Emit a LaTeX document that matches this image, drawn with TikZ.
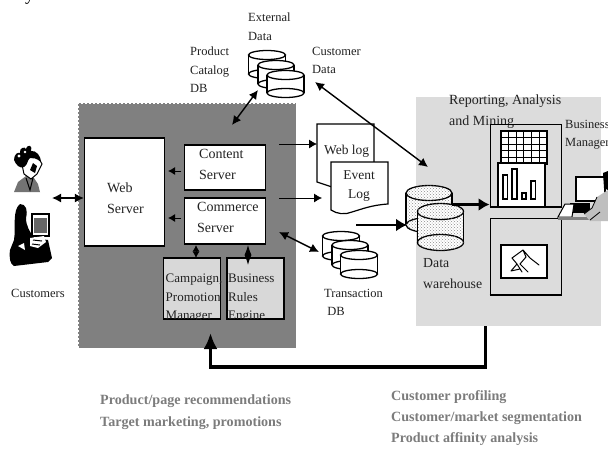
\documentclass[tikz,border=0pt]{standalone}
\usepackage{fontspec}
\setmainfont{Liberation Serif}
\usetikzlibrary{arrows.meta,patterns,calc}
\definecolor{panelgray}{HTML}{808080}
\definecolor{lightpanel}{HTML}{DCDCDC}
\definecolor{boxgray}{HTML}{D8D8D8}
\definecolor{noteink}{HTML}{7C7C7C}
\definecolor{inkgray}{HTML}{222222}
\newcommand{\dbcan}[5]{% cx, top y, half width, body height, ry
  \fill[white] (#1-#3,#2) rectangle (#1+#3,#2+#4);
  \draw[dbline] (#1-#3,#2) -- (#1-#3,#2+#4) (#1+#3,#2) -- (#1+#3,#2+#4);
  \draw[dbline,fill=white] (#1,#2+#4) ellipse [x radius=#3,y radius=#5];
  \draw[dbline,fill=white] (#1,#2) ellipse [x radius=#3,y radius=#5];
}
\newcommand{\dotcan}[5]{%
  \fill[white] (#1-#3,#2) rectangle (#1+#3,#2+#4);
  \fill[pattern=crosshatch dots,pattern color=black!45] (#1-#3,#2) rectangle (#1+#3,#2+#4);
  \draw[dbline] (#1-#3,#2) -- (#1-#3,#2+#4) (#1+#3,#2) -- (#1+#3,#2+#4);
  \draw[dbline,fill=white] (#1,#2+#4) ellipse [x radius=#3,y radius=#5];
  \fill[pattern=crosshatch dots,pattern color=black!45] (#1,#2+#4) ellipse [x radius=#3,y radius=#5];
  \draw[dbline,fill=white] (#1,#2) ellipse [x radius=#3,y radius=#5];
  \fill[pattern=crosshatch dots,pattern color=black!45] (#1,#2) ellipse [x radius=#3,y radius=#5];
}
\tikzset{
  x=1pt,y=-1pt,
  dbline/.style={line width=1.3pt,draw=black},
  srvbox/.style={draw=black,fill=white,line width=1.2pt,inner sep=0pt,align=center},
  subbox/.style={draw=black,fill=boxgray,line width=1.2pt,inner sep=0pt},
  framebox/.style={draw=black,line width=0.9pt},
  lbl/.style={inner sep=0pt,align=left,text=inkgray,font=\fontsize{12.5}{18.3}\selectfont},
  srvtext/.style={inner sep=0pt,align=left,text=inkgray,font=\fontsize{14}{21}\selectfont},
  note/.style={inner sep=0pt,align=left,text=noteink,font=\bfseries\fontsize{14.1}{21.3}\selectfont},
  biarrow/.style={{Latex[length=9pt,width=9pt]}-{Latex[length=9pt,width=9pt]},line width=1.4pt},
  onearrow/.style={-{Latex[length=8pt,width=9pt]},line width=0.8pt},
  thickarrow/.style={-{Latex[length=11pt,width=13pt]},line width=2.2pt},
  bigarrow/.style={-{Latex[length=16pt,width=14pt]},line width=3.2pt},
}
\begin{document}
\begin{tikzpicture}
\clip (0,0) rectangle (608,448);
\useasboundingbox (0,0) rectangle (608,448);
\fill[white] (0,0) rectangle (608,448);
% cut-off text at top
\node[anchor=base west,inner sep=0pt,font=\fontsize{18}{18}\selectfont] (cuty) at (25,0) {y};
% panels
\node[fill=panelgray,draw=white,line width=1pt,dash pattern=on 2pt off 2pt,minimum width=218pt,minimum height=245pt,inner sep=0pt] (corepanel) at (187,225.5) {};
\node[fill=lightpanel,minimum width=185pt,minimum height=229pt,inner sep=0pt] (lightpanelbox) at (508.5,211.5) {};
% servers
\node[srvbox,minimum width=80pt,minimum height=108pt] (web) at (124.5,192) {};
\node[srvtext,anchor=north west] (webt) at (107,183) {Web\\Server};
\node[srvbox,minimum width=81pt,minimum height=45pt] (content) at (225,167.5) {};
\node[srvtext,anchor=north west] (contentt) at (199,149) {Content\\Server};
\node[srvbox,minimum width=81pt,minimum height=46pt] (commerce) at (225,221) {};
\node[srvtext,anchor=north west] (commercet) at (197,202) {Commerce\\Server};
\node[subbox,minimum width=57pt,minimum height=61pt] (campaign) at (192,288.5) {};
\node[subbox,minimum width=57pt,minimum height=61pt] (rules) at (255.5,288.5) {};
\begin{scope}
\clip (campaign.south west) rectangle (campaign.north east);
\node[inner sep=0pt,align=left,text=inkgray,font=\fontsize{13}{18.5}\selectfont,anchor=north west] (campaignt) at (165.5,274) {Campaign,\\Promotion\\Manager};
\end{scope}
\begin{scope}
\clip (rules.south west) rectangle (rules.north east);
\node[inner sep=0pt,align=left,text=inkgray,font=\fontsize{13}{18.5}\selectfont,anchor=north west] (rulest) at (228,274) {Business\\Rules\\Engine};
\end{scope}
% coordinates for arrows
\coordinate (webL) at (52,198);
\coordinate (contentArrowA) at (181,171);
\coordinate (contentArrowB) at (168,171);
\coordinate (commerceArrowA) at (181,218);
\coordinate (commerceArrowB) at (168,218);
\draw[-{Latex[length=7pt,width=8pt]},line width=1pt] (contentArrowA) -- (contentArrowB);
\draw[-{Latex[length=7pt,width=8pt]},line width=1pt] (commerceArrowA) -- (commerceArrowB);
\draw[biarrow] (webL) -- (web.west |- webL);
\draw[{Latex[length=6.5pt,width=7pt]}-{Latex[length=6.5pt,width=7pt]},line width=1pt] (196,245) -- (196,258);
\draw[{Latex[length=10pt,width=7pt]}-{Latex[length=10pt,width=7pt]},line width=1pt] (248,245) -- (248,265);
% external data
\dbcan{267}{55}{18.5}{19}{4.5}
\dbcan{276}{65}{18}{19}{4.5}
\dbcan{285.5}{75}{18.5}{18}{4.5}
\node[lbl,anchor=north west] (extt) at (248,13) {External\\Data};
\node[lbl,anchor=north west] (prodt) at (190,47) {Product\\Catalog\\DB};
\node[lbl,anchor=north west] (custt) at (312,47) {Customer\\Data};
\coordinate (extA) at (258,90);
\coordinate (extB) at (232,125);
\draw[biarrow] (extA) -- (extB);
% documents
\draw[line width=1.2pt,fill=white] (317,124) -- (374,124) -- (374,170) -- (345,190) -- (332,187) -- (317,182) -- cycle;
\node[lbl,anchor=north west,font=\fontsize{13.5}{18}\selectfont] (weblogt) at (324,145) {Web log};
\draw[line width=1.2pt,fill=white] (331,162) -- (388,162) -- (388,204) .. controls (372,205) and (362,209) .. (352,212) .. controls (345,215) and (337,214) .. (331,210) -- cycle;
\node[lbl,anchor=north,align=center,font=\fontsize{13.5}{19.5}\selectfont] (eventt) at (359,170) {Event\\Log};
% arrows into documents
\coordinate (logA) at (279,144);
\coordinate (logB) at (317,144);
\coordinate (evA) at (279,198);
\coordinate (evB) at (322,198);
\draw[onearrow] (logA) -- (logB);
\draw[onearrow] (evA) -- (evB);
% transaction db
\dbcan{341}{236}{18.5}{20}{4.5}
\dbcan{350}{245}{18}{20}{4.5}
\dbcan{359}{255}{18.5}{19}{4.5}
\node[lbl,anchor=north west] (txt) at (324,289) {Transaction\\\ DB};
\coordinate (txA) at (279,232);
\coordinate (txB) at (319,252);
\draw[biarrow] (txA) -- (txB);
% customer data arrow
\coordinate (custA) at (315,82);
\coordinate (custB) at (428,167);
\draw[biarrow] (custA) -- (custB);
% report text
\node[srvtext,anchor=north west] (rept) at (449,95) {Reporting, Analysis\\and Mining};
% report boxes
\node[framebox,minimum width=71pt,minimum height=83pt,inner sep=0pt] (upperframe) at (525.5,165.5) {};
\node[framebox,minimum width=71pt,minimum height=77pt,inner sep=0pt] (lowerframe) at (525.5,256.5) {};
\draw[line width=2pt] (upperframe.south west) -- (upperframe.south east);
\draw[line width=2pt] (lowerframe.south west) -- (lowerframe.south east);
\draw[line width=1.3pt] (lowerframe.north east) -- (lowerframe.south east);
% grid
\draw[line width=1.4pt,fill=white] (501,131) rectangle (547,164);
\draw[line width=0.7pt,shift={(501,131)}] (7.6,0) -- (7.6,33) (15.2,0) -- (15.2,33) (22.8,0) -- (22.8,33) (30.4,0) -- (30.4,33) (38,0) -- (38,33)
  (0,6.6) -- (46,6.6) (0,13.2) -- (46,13.2) (0,19.8) -- (46,19.8) (0,26.4) -- (46,26.4);
% chart
\draw[line width=1.4pt,fill=white] (498,163) rectangle (545,207);
\draw[line width=1.1pt,fill=white] (503,175) rectangle (507.5,199);
\draw[line width=1.1pt,fill=white] (512,169) rectangle (517,199);
\draw[line width=1.1pt,fill=white] (522,193) rectangle (526,199);
\draw[line width=1.1pt,fill=white] (531,181) rectangle (535.5,199);
% tree image
\draw[line width=1.4pt,fill=white] (501,245) rectangle (547,278);
\draw[line width=1pt,line cap=round] (511,271) -- (517,264) -- (512,258) -- (523,250) -- (530,258) -- (539,265)
  (523,250) -- (526,257) -- (520,264) -- (528,272) (517,264) -- (522,272) (511,271) -- (520,269);
% data warehouse
\dotcan{429}{193}{23}{32}{7.5}
\dotcan{440.5}{211.5}{23}{31}{8}
\node[srvtext,anchor=north west,font=\fontsize{13.8}{21}\selectfont] (dwt) at (423,258) {Data\\warehouse};
\coordinate (dwOut) at (452,204.5);
\coordinate (dwIn) at (407,225);
\draw[thickarrow] (dwOut) -- (upperframe.west |- dwOut);
\draw[thickarrow] (356,225) -- (dwIn);
% feedback
\coordinate (fbA) at (485.5,326);
\coordinate (fbB) at (485.5,367);
\coordinate (fbC) at (210.5,367);
\coordinate (fbD) at (210.5,333);
\draw[bigarrow] (fbA) -- (fbB) -- (fbC) -- (fbD);
% customers art
\fill[black!55] (14,192) -- (18,182) -- (26,176) -- (34,178) -- (38,184) -- (40,192) -- cycle;
\draw[line width=1pt,fill=white] (21,160) -- (24,174) -- (31,179) -- (37,174) -- (42,164) -- (37,155) -- (24,155) -- cycle;
\fill[black] (14,160) .. controls (14,154) and (18,152) .. (20,153) .. controls (19,148) and (25,146) .. (26,149) .. controls (28,143) and (33,146) .. (31,151) .. controls (36,150) and (41,156) .. (41,162) .. controls (36,158) and (34,158) .. (30,158) .. controls (27,160) and (28,165) .. (24,167) .. controls (20,169) and (16,165) .. (14,160) -- cycle;
\fill[white] (19,156) circle (1.6pt) (25,152) circle (1.4pt);
\fill[black] (33,163) -- (37,166) -- (35,173) -- (30,170) -- cycle;
\draw[line width=1pt] (26,178) -- (30,190) -- (33,178);
% person at computer
\fill[black] (20,204) .. controls (26,204) and (28,210) .. (26,218) .. controls (26,226) and (30,232) .. (34,238) -- (48,240) -- (52,258) -- (48,262) -- (14,266) .. controls (10,264) and (9,258) .. (10,250) -- (14,240) .. controls (16,228) and (12,210) .. (20,204) -- cycle;
\draw[line width=1.2pt,fill=white] (32,214) rectangle (49,236);
\fill[black!60] (34,218) rectangle (47,233);
\fill[white] (30,238) -- (44,236) -- (46,242) -- (38,248) -- (30,246) -- cycle;
\draw[line width=1pt] (33,240) -- (42,241) (32,244) -- (40,245);
\fill[white] (18,246) -- (24,243) -- (25,250) -- cycle;
\node[lbl,anchor=north west] (customerst) at (11,289) {Customers};
% business manager art
\draw[line width=1.4pt,fill=white] (576,177) rectangle (605,201);
\fill[black] (570,203) -- (590,203) -- (590,213) -- (570,213) -- cycle;
\draw[line width=1pt,fill=white] (565,204) -- (558,217) -- (572,217) -- (574,204) -- cycle;
\fill[black!50] (558,217) rectangle (590,220);
\fill[black!25] (597,197) -- (608,190) -- (608,221) -- (590,221) -- (584,214) -- (592,208) -- cycle;
\draw[line width=0.8pt] (584,214) -- (592,208) -- (597,197) (590,220) -- (600,212);
\fill[black] (603,173) -- (608,171) -- (608,190) -- (604,188) -- cycle;
% business manager label
\node[lbl,anchor=north west] (bmt) at (565,120) {Business\\Manager};
% notes
\node[note,anchor=north west] (note1) at (100,395) {Product/page recommendations\\Target marketing, promotions};
\node[note,anchor=north west] (note2) at (391,390) {Customer profiling\\Customer/market segmentation\\Product affinity analysis};
\end{tikzpicture}
\end{document}
